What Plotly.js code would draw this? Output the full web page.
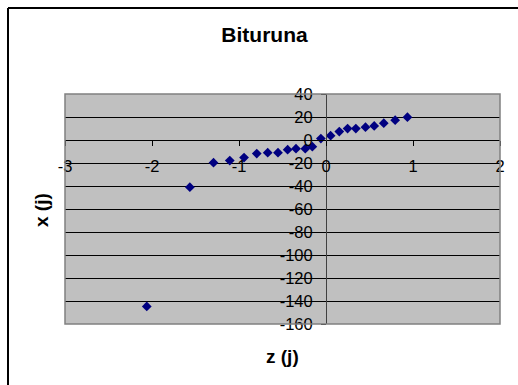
<!DOCTYPE html>
<html>
<head>
<meta charset="utf-8">
<script src="https://cdn.plot.ly/plotly-3.0.1.min.js"></script>
<style>html,body{margin:0;padding:0;background:#fff;}#chart{width:518px;height:385px;}</style>
</head>
<body>
<div id="chart"></div>
<script>
// z (j) values
const zValues = [-2.06, -1.565, -1.293, -1.106, -0.942, -0.796, -0.670, -0.552, -0.441, -0.345, -0.238, -0.157,
                 -0.059, 0.053, 0.153, 0.248, 0.343, 0.454, 0.554, 0.664, 0.795, 0.936];
// x (j) values
const xValues = [-144.7, -41.0, -19.7, -17.9, -15.3, -11.8, -11.0, -11.0, -8.4, -7.5, -7.5, -5.8,
                 1.2, 3.8, 7.3, 9.9, 9.9, 11.1, 12.2, 14.6, 17.2, 19.8];
const xTickVals = [-3, -2, -1, 0, 1, 2];
const yTickVals = [40, 20, 0, -20, -40, -60, -80, -100, -120, -140, -160];
const chartTitle = "Bituruna";
const xTitle = "z (j)";
const yTitle = "x (j)";

const xRange = [-3, 2];
const yRange = [-160, 40];
const font = "Liberation Sans, Arial, sans-serif";

const trace = {
  x: zValues, y: xValues, type: "scatter", mode: "markers",
  marker: {symbol: "diamond", size: 7.5, color: "#000080"},
  hoverinfo: "none", cliponaxis: false
};

const layout = {
  width: 518, height: 385,
  margin: {l: 65, r: 18, t: 94, b: 61, pad: 0},
  paper_bgcolor: "#ffffff",
  plot_bgcolor: "#c0c0c0",
  showlegend: false,
  font: {family: font, color: "#000"},
  title: {text: "<b>" + chartTitle + "</b>", font: {size: 21, family: font, color: "#000"},
          xref: "container", yref: "container", x: 264.5/518, xanchor: "center", y: 1 - 35/385, yanchor: "middle"},
  xaxis: {
    range: xRange, tickvals: xTickVals, ticktext: xTickVals.map(String),
    anchor: "free", position: (0 - yRange[0]) / (yRange[1] - yRange[0]),
    showline: true, linecolor: "#000", linewidth: 1,
    ticks: "outside", ticklen: 5, tickcolor: "#000", tickwidth: 1,
    showgrid: false, zeroline: false,
    tickfont: {size: 16.5, family: font, color: "#000"},
    ticklabelstandoff: 6, fixedrange: true
  },
  yaxis: {
    range: yRange, tickvals: yTickVals, ticktext: yTickVals.map(String),
    anchor: "free", position: (0 - xRange[0]) / (xRange[1] - xRange[0]),
    showline: true, linecolor: "#404040", linewidth: 1,
    ticks: "outside", ticklen: 5, tickcolor: "#000", tickwidth: 1,
    showgrid: true, gridcolor: "#000", gridwidth: 1, zeroline: false,
    tickfont: {size: 16.5, family: font, color: "#000"},
    ticklabelstandoff: 5, fixedrange: true
  },
  annotations: [
    {text: "<b>" + xTitle + "</b>", xref: "paper", yref: "paper", x: 0.5, y: -(356 - 324) / 230,
     xanchor: "center", yanchor: "middle", showarrow: false, font: {size: 19, family: font, color: "#000"}},
    {text: "<b>" + yTitle + "</b>", xref: "paper", yref: "paper", x: (41 - 65) / 435, y: 0.5 - (210 - 209) / 230,
     xanchor: "center", yanchor: "middle", textangle: -90, showarrow: false, font: {size: 19, family: font, color: "#000"}}
  ],
  shapes: [
    {type: "rect", xref: "paper", yref: "paper", x0: 0, x1: 1, y0: 0, y1: 1, line: {color: "#808080", width: 1.5}},
    {type: "line", xref: "paper", yref: "paper", x0: (8 - 65) / 435, x1: (8 - 65) / 435, y0: 1 + (94 - 8) / 230, y1: -(385 - 324 + 5) / 230, line: {color: "#000", width: 2}},
    {type: "line", xref: "paper", yref: "paper", x0: (8 - 65) / 435, x1: (530 - 65) / 435, y0: 1 + (94 - 8) / 230, y1: 1 + (94 - 8) / 230, line: {color: "#000", width: 2}}
  ]
};

Plotly.newPlot("chart", [trace], layout, {displayModeBar: false, staticPlot: true});
</script>
</body>
</html>
